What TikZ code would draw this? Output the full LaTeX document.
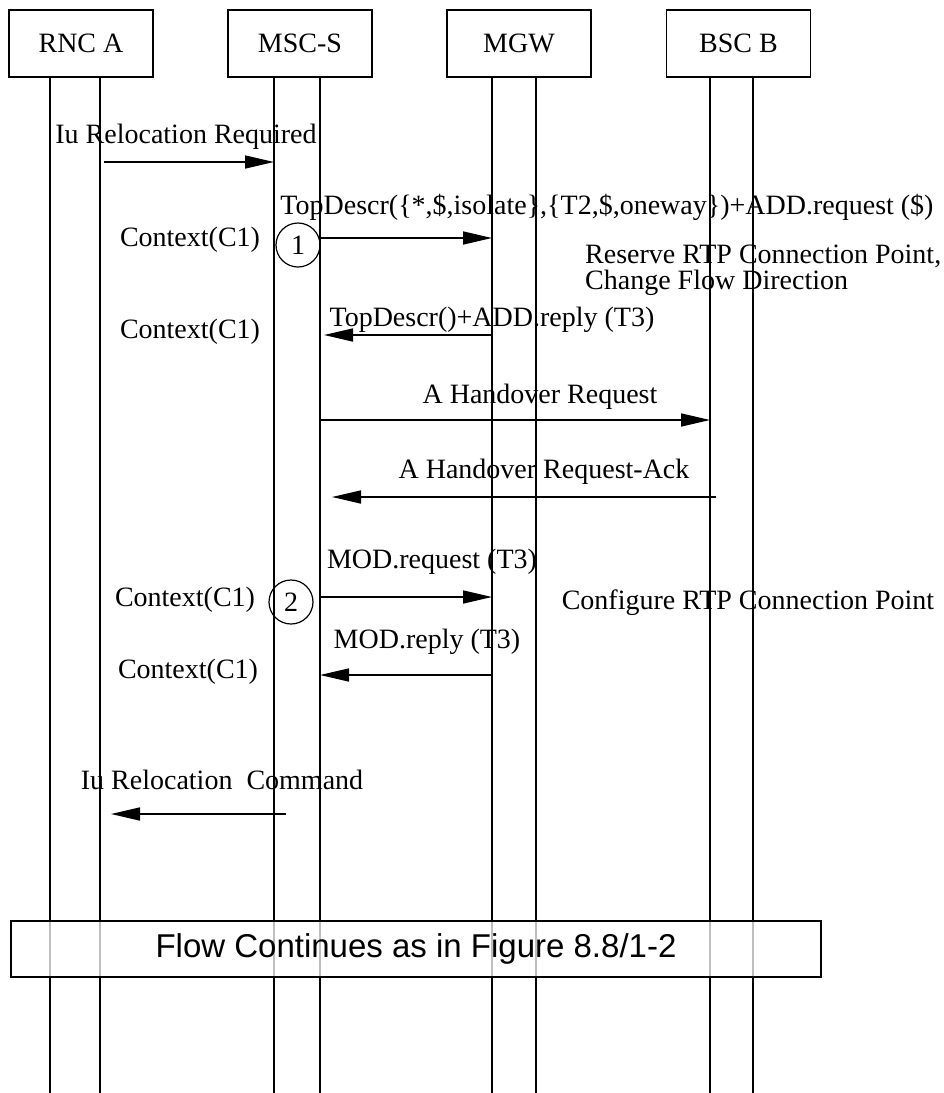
\documentclass[tikz,border=0pt]{standalone}
\usepackage{fontspec}
\setmainfont{Liberation Serif}
\newfontfamily\flowfont{Liberation Sans}
\usetikzlibrary{arrows.meta,positioning,calc}

\begin{document}
\begin{tikzpicture}[x=1pt, y=-1pt,
  font=\fontsize{28}{31}\selectfont,
  entity/.style={draw, line width=1.4pt, minimum width=144pt, minimum height=67pt, inner sep=0pt},
  msgtext/.style={inner sep=0pt},
  seqnum/.style={draw, circle, line width=1.2pt, minimum size=44pt, inner sep=0pt},
  msg/.style={-{Triangle[length=29pt,width=13pt]}, line width=1.6pt},
  lifeline/.style={line width=1.2pt},
  contbox/.style={draw, line width=1.4pt, fill=white, fill opacity=0.75, text opacity=1, minimum width=810pt, minimum height=56pt, font=\flowfont\fontsize{33}{36}\selectfont}
]
  \useasboundingbox (0,0) rectangle (944,1093);

  % Entities
  \node[entity] (rnc) at (81,43.5) {RNC A};
  \node[entity] (msc) at (300,43.5) {MSC-S};
  \node[entity] (mgw) at (519,43.5) {MGW};
  \node[entity] (bsc) at (738.5,43.5) {BSC B};

  % Lifelines
  \foreach \n/\x in {rncL/50, rncR/100, mscL/274, mscR/320, mgwL/492, mgwR/536, bscL/710, bscR/753} {
    \coordinate (\n) at (\x,77);
    \coordinate (\n end) at (\x,1093);
    \draw[lifeline] (\n) -- (\n end);
  }

  % Message rows
  \foreach \r/\y in {r1/162, r2/238, r3/335, r4/420, r5/497, r6/597, r7/675, r8/814} {
    \coordinate (\r) at (0,\y);
  }

  % Relocation required
  \node[msgtext] (relreq) at (186,137) {Iu Relocation Required};
  \draw[msg] ([xshift=4pt]rncR |- r1) -- (mscL |- r1);

  % Context C1, ADD
  \node[msgtext] (addreq) at (607,207) {TopDescr(\{*,\$,isolate\},\{T2,\$,oneway\})+ADD.request (\$)};
  \node[msgtext] (ctx1) at (190,240) {Context(C1)};
  \node[seqnum] (n1) at (298,245) {1};
  \draw[msg] (mscR |- r2) -- (mgwL |- r2);
  \node[msgtext, anchor=west, align=left] (reserve) at (585,270) {Reserve RTP Connection Point,\\[-5pt] Change Flow Direction};

  \node[msgtext] (addrep) at (492,320) {TopDescr()+ADD.reply (T3)};
  \node[msgtext] (ctx2) at (190,332) {Context(C1)};
  \draw[msg] (mgwL |- r3) -- ([xshift=4pt]mscR |- r3);

  % Handover
  \node[msgtext] (horeq) at (540,397) {A Handover Request};
  \draw[msg] (mscR |- r4) -- (bscL |- r4);
  \node[msgtext] (hoack) at (544,472) {A Handover Request-Ack};
  \draw[msg] ([xshift=6pt]bscL |- r5) -- ([xshift=12pt]mscR |- r5);

  % MOD
  \node[msgtext] (modreq) at (432,562) {MOD.request (T3)};
  \node[msgtext] (ctx3) at (185,600) {Context(C1)};
  \node[seqnum] (n2) at (291,602) {2};
  \draw[msg] (mscR |- r6) -- (mgwL |- r6);
  \node[msgtext] (config) at (748,603) {Configure RTP Connection Point};

  \node[msgtext] (modrep) at (427,642) {MOD.reply (T3)};
  \node[msgtext] (ctx4) at (188,672) {Context(C1)};
  \draw[msg] (mgwL |- r7) -- (mscR |- r7);

  % Relocation command
  \node[msgtext] (relcmd) at (222,780) {Iu Relocation~~Command};
  \draw[msg] ([xshift=12pt]mscL |- r8) -- ([xshift=11pt]rncR |- r8);

  % Continuation
  \node[contbox] (cont) at (416,949) {Flow Continues as in Figure 8.8/1-2};
\end{tikzpicture}
\end{document}
